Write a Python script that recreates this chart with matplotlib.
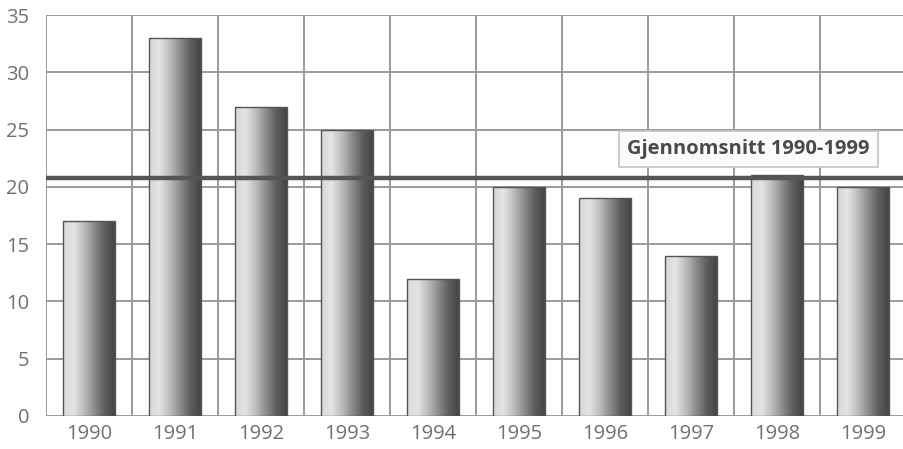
import matplotlib
matplotlib.use('Agg')
import matplotlib.pyplot as plt
import numpy as np
from matplotlib.colors import LinearSegmentedColormap

years = ['1990', '1991', '1992', '1993', '1994', '1995', '1996', '1997', '1998', '1999']
values = [17, 33, 27, 25, 12, 20, 19, 14, 21, 20]
avg_label = 'Gjennomsnitt 1990-1999'

plt.rcParams['font.family'] = ['Open Sans', 'DejaVu Sans']

fig = plt.figure(figsize=(9.04, 4.49), dpi=100)
ax = fig.add_axes([0.051, 0.0735, 0.951, 0.893])

x = np.arange(len(years))
width = 0.6

# cylinder-like shading: light on the left, dark on the right
cyl = LinearSegmentedColormap.from_list('cyl', ['#d8d8d8', '#e4e4e4', '#bdbdbd', '#8c8c8c', '#5e5e5e', '#444444'])
grad = np.linspace(0, 1, 256).reshape(1, -1)

bars = ax.bar(x, values, width, color='none', edgecolor='#555555', linewidth=1.0, zorder=3)
for b in bars:
    bx, by = b.get_x(), b.get_y()
    bw, bh = b.get_width(), b.get_height()
    im = ax.imshow(grad, cmap=cyl, aspect='auto', extent=[bx, bx + bw, by, by + bh], zorder=2)
    im.set_clip_path(b)

avg = np.mean(values)
ax.axhline(avg, color='#555555', linewidth=3.2, zorder=4)

ax.text(7.67, 23.3, avg_label, ha='center', va='center', fontsize=14.5, fontweight='bold',
        color='#4a4a4a', zorder=6,
        bbox=dict(boxstyle='square,pad=0.4', facecolor='#fbfbfb', edgecolor='#c4c4c4', linewidth=1.2))

ax.set_xlim(-0.5, 9.5)
ax.set_ylim(0, 35)
ax.set_yticks(range(0, 36, 5))
ax.set_xticks(x)
ax.set_xticklabels(years)
ax.set_xticks(np.arange(-0.5, 10, 1), minor=True)

ax.grid(False)
ax.yaxis.grid(True, color='#9a9a9a', linewidth=1.4, zorder=0)
ax.xaxis.grid(True, which='minor', color='#9a9a9a', linewidth=1.4, zorder=0)
ax.set_axisbelow(True)

for s in ax.spines.values():
    s.set_visible(False)
ax.tick_params(axis='both', which='both', length=0, labelsize=14.5, labelcolor='#707070')
ax.tick_params(axis='y', pad=12)
ax.tick_params(axis='x', pad=6)

fig.savefig('out.png', dpi=100)
